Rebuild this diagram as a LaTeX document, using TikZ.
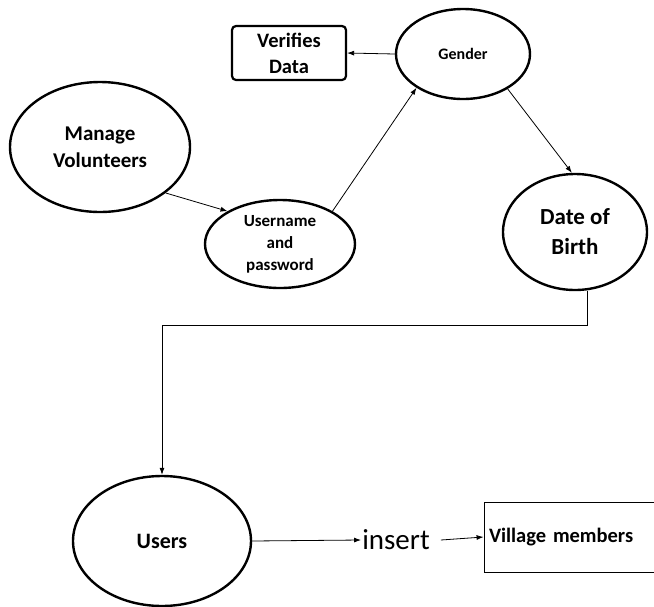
\documentclass[tikz,border=0pt]{standalone}
\usepackage{fontspec}
\setmainfont{Carlito}
\usetikzlibrary{shapes.geometric,arrows.meta}

\tikzset{
	bubble/.style={ellipse, draw=black, line width=2.4pt, inner sep=0pt, align=center},
	flow/.style={-{Latex[length=7pt,width=5pt]}, line width=0.8pt}
}

\begin{document}
\begin{tikzpicture}[x=1pt, y=-1pt]
	\useasboundingbox (0,0) rectangle (654,606);

	% process bubbles
	\node[bubble, minimum width=180pt, minimum height=130pt, font=\bfseries\fontsize{21}{27}\selectfont](manageVol) at (100,147){Manage\\Volunteers};
	\node[bubble, minimum width=150pt, minimum height=88pt, font=\bfseries\fontsize{17}{22}\selectfont](userPass) at (280,244){Username\\and\\password};
	\node[bubble, minimum width=134pt, minimum height=90pt, font=\bfseries\fontsize{16}{20}\selectfont](gender) at (463,54){Gender};
	\node[bubble, minimum width=144pt, minimum height=116pt, font=\bfseries\fontsize{23}{30}\selectfont](dob) at (575,232){Date of\\Birth};
	\node[bubble, minimum width=178pt, minimum height=130pt, font=\bfseries\fontsize{22}{26}\selectfont](users) at (162,541){Users};

	% stores
	\node[rectangle, draw=black, line width=2.2pt, rounded corners=4pt, minimum width=114pt, minimum height=54pt, align=center, font=\bfseries\fontsize{20.5}{26}\selectfont](verifies) at (289,53){Verifies\\Data};
	\node[rectangle, draw=black, line width=0.8pt, minimum width=180pt, minimum height=70pt, text width=170pt, align=left, font=\bfseries\fontsize{20.5}{24}\selectfont](village) at (574,537){Village members};
	\node[inner sep=1pt, font=\fontsize{29}{32}\selectfont](insertLbl) at (396,540){insert};

	% flows
	\draw[flow] (manageVol.-35) -- (userPass.148);
	\draw[flow] (userPass.32) -- (gender.-144);
	\draw[flow] (gender.west) -- (verifies.east);
	\draw[flow] (gender.-38) -- (dob.93);
	\coordinate (elbow) at (587,325);
	\draw[flow] ([xshift=12pt]dob.south) -- (elbow) -| (users.north);
	\draw[flow] (users.east) -- (insertLbl.west);
	\draw[flow] ([xshift=10pt]insertLbl.east) -- (village.west);
\end{tikzpicture}
\end{document}
